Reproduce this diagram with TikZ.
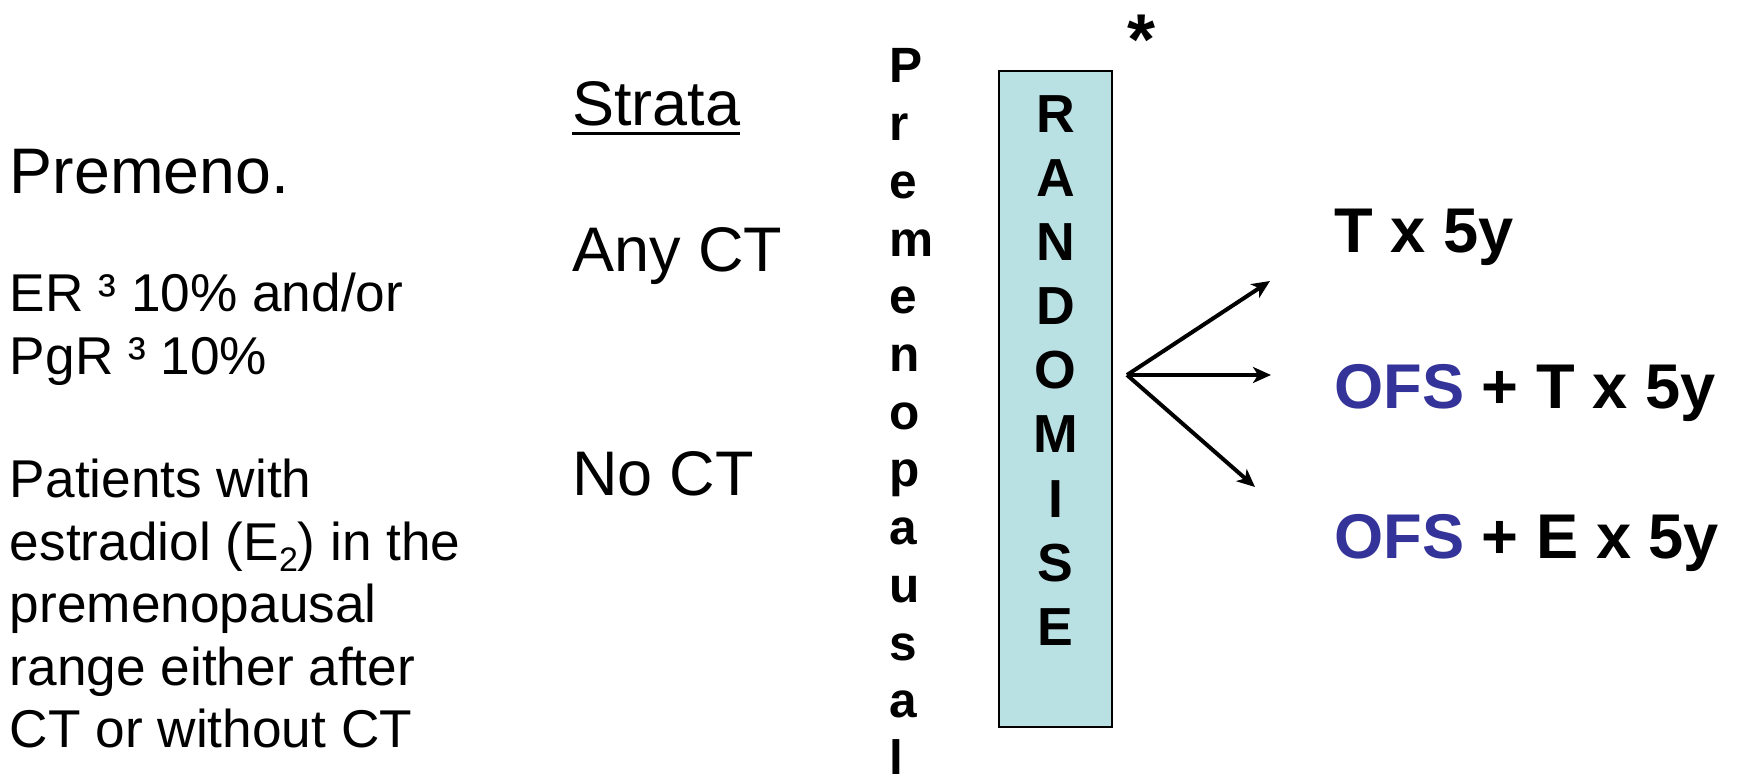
\documentclass[tikz,border=0pt]{standalone}
\usepackage{fontspec}
\setmainfont{Liberation Sans}
\usetikzlibrary{arrows.meta}
\definecolor{boxfill}{HTML}{B9E0E3}
\definecolor{ofsblue}{HTML}{333399}
\tikzset{
  txt/.style={anchor=base west, inner sep=0pt, outer sep=0pt},
  big/.style={font=\fontsize{31.5}{37}\selectfont},
  body/.style={font=\fontsize{26.6}{31}\selectfont},
  stackletter/.style={anchor=base west, inner sep=0pt, font=\fontsize{24.8}{29}\selectfont\bfseries},
  randletter/.style={anchor=base, inner sep=0pt, font=\fontsize{26.8}{31}\selectfont\bfseries},
  arm/.style={line width=2pt, -{Stealth[length=9pt,width=8pt,inset=2.5pt]}},
  armlabel/.style={anchor=base west, inner sep=0pt, font=\fontsize{31.6}{37}\selectfont\bfseries},
}
\begin{document}
\begin{tikzpicture}[x=0.5pt,y=-0.5pt]
\useasboundingbox (0,0) rectangle (1744,774);

% eligibility text on the left
\node[txt,font=\fontsize{32.2}{37}\selectfont] (premeno) at (10,194) {Premeno.};
\node[txt,body] (er) at (10,312) {ER ³ 10\% and/or};
\node[txt,body] (pgr) at (10,375) {PgR ³ 10\%};
\node[txt,body] (pat1) at (10,497) {Patients with};
\node[txt,body] (pat2) at (10,560) {estradiol (E\raisebox{-0.22em}{\fontsize{17}{20}\selectfont 2}) in the};
\node[txt,body] (pat3) at (10,622) {premenopausal};
\node[txt,body] (pat4) at (10,685) {range either after};
\node[txt,body] (pat5) at (10,747) {CT or without CT};

% strata
\node[txt,big] (strata) at (572,126) {Strata};
\draw[line width=1.5pt] ([yshift=-4pt]strata.base west) -- ([yshift=-4pt]strata.base east);
\node[txt,big] (anyct) at (572,272) {Any CT};
\node[txt,big] (noct) at (572,495) {No CT};

% vertical word
\foreach \l [count=\i from 0] in {P,r,e,m,e,n,o,p,a,u,s,a,l}
  \node[stackletter] (pm\i) at (889,83+57.7*\i) {\l};

% randomisation box
\node[draw=black, fill=boxfill, line width=1.25pt, minimum width=56.5pt,
      minimum height=328pt, inner sep=0pt] (rand) at (1055.5,399) {};
\foreach \l [count=\i from 0] in {R,A,N,D,O,M,I,S,E}
  \node[randletter] (rl\i) at (1055.5,133+64*\i) {\l};
\node[anchor=base, inner sep=0pt, font=\fontsize{36}{40}\selectfont\bfseries] (star) at (1141,65) {*};

% treatment arms
\coordinate (fork) at (1127,375);
\coordinate (tipA) at (1270,281);
\coordinate (tipB) at (1271,375);
\coordinate (tipC) at (1255,487);
\draw[arm] (fork) -- (tipA);
\draw[arm] (fork) -- (tipB);
\draw[arm] (fork) -- (tipC);

\node[armlabel] (t5) at (1334,253) {T x 5y};
\node[armlabel] (ofst) at (1334,409) {\textcolor{ofsblue}{OFS} + T x 5y};
\node[armlabel] (ofse) at (1334,559) {\textcolor{ofsblue}{OFS} + E x 5y};
\end{tikzpicture}
\end{document}
